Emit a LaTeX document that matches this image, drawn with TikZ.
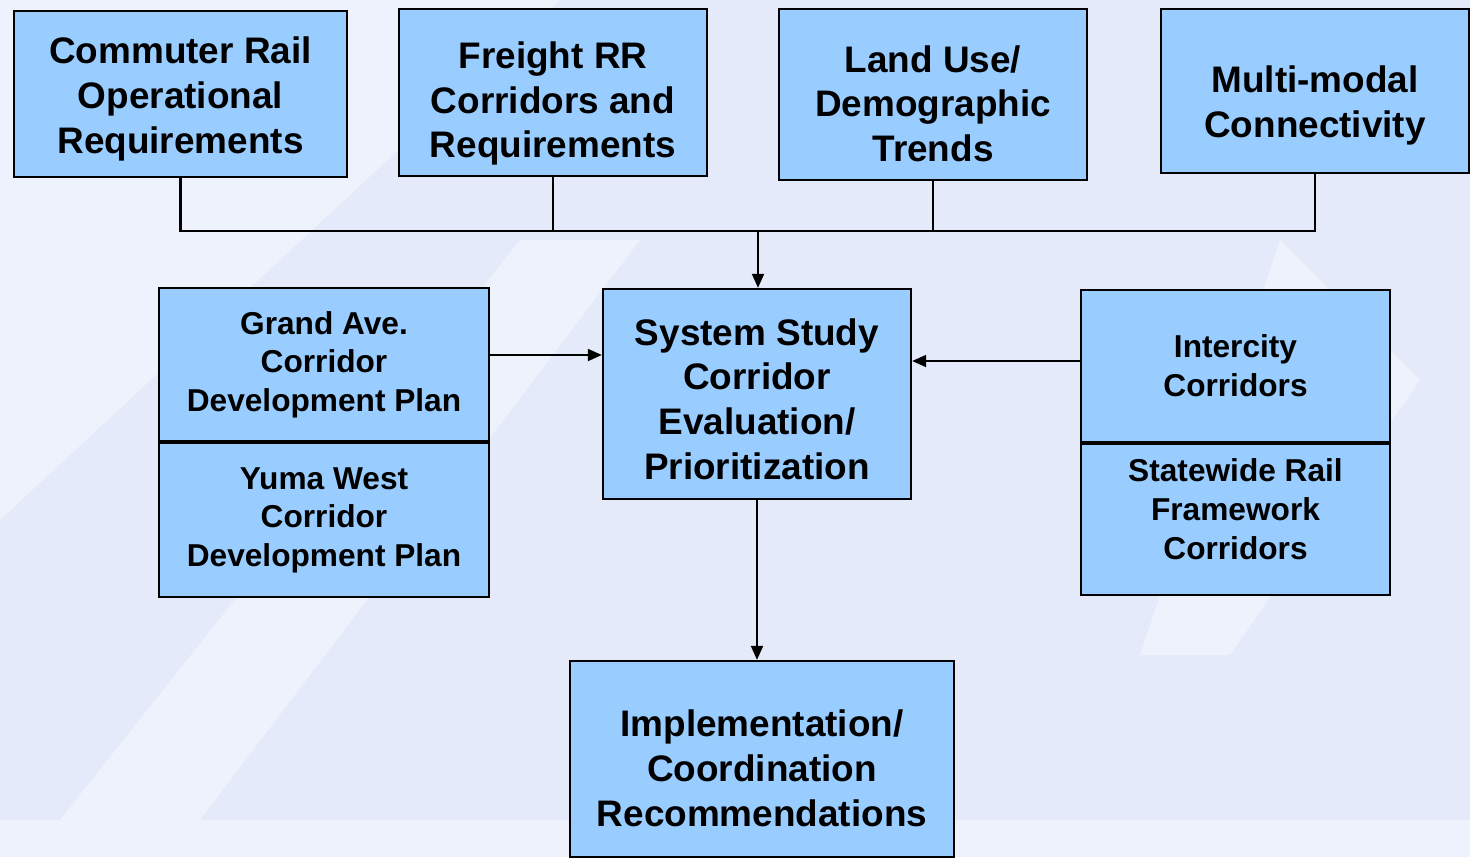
\documentclass[tikz,border=0pt]{standalone}
\usepackage{fontspec}
\setmainfont{Liberation Sans}
\usetikzlibrary{positioning,arrows.meta}
\definecolor{boxblue}{RGB}{153,204,255}
\definecolor{bgdark}{RGB}{228,234,250}
\definecolor{bglight}{RGB}{238,242,252}
\newcommand{\topgap}[1]{\rule{0pt}{#1}}

\begin{document}
\begin{tikzpicture}[x=0.01cm, y=-0.01cm,
  mybox/.style={draw=black, line width=0.6pt, fill=boxblue, align=center, inner sep=0pt},
  bigbox/.style={mybox, font=\fontsize{10.5}{12.7}\selectfont\bfseries},
  smallbox/.style={mybox, font=\fontsize{9}{11}\selectfont\bfseries},
  textup/.style={execute at end node={\rule[-#1]{0pt}{0pt}}},
  link/.style={line width=0.6pt},
  arrow/.style={link, -{Triangle[length=4pt, width=3.4pt]}}
  ]
  % background
  \fill[bgdark] (0,0) rectangle (1470,857);
  \useasboundingbox (0,0) rectangle (1470,857);
  \fill[bglight] (0,0) -- (560,0) -- (0,520) -- cycle;
  \fill[bglight] (0,820) -- (1470,820) -- (1470,857) -- (0,857) -- cycle;
  \fill[bglight] (60,820) -- (520,240) -- (640,240) -- (200,820) -- cycle;
  \fill[bglight] (1140,655) -- (1280,240) -- (1420,380) -- (1230,655) -- cycle;

  % top row
  \node[bigbox, minimum width=3.33cm, minimum height=1.66cm] (commuter) at (180.5,94)
    {\topgap{10.5pt}Commuter Rail\\Operational\\Requirements};
  \node[bigbox, minimum width=3.08cm, minimum height=1.67cm] (freight) at (553,92.5)
    {\topgap{14pt}Freight RR\\Corridors and\\Requirements};
  \node[bigbox, minimum width=3.08cm, minimum height=1.71cm] (landuse) at (933,94.5)
    {\topgap{12.8pt}Land Use/\\Demographic\\Trends};
  \node[bigbox, minimum width=3.08cm, minimum height=1.64cm] (multimodal) at (1315,91)
    {\topgap{16pt}Multi-modal\\Connectivity};

  % middle row
  \node[bigbox, minimum width=3.08cm, minimum height=2.10cm] (system) at (757,394)
    {\topgap{10.5pt}System Study\\Corridor\\Evaluation/\\Prioritization};
  \node[smallbox, minimum width=3.30cm, minimum height=1.53cm] (grand) at (324,364.5)
    {Grand Ave.\\Corridor\\Development Plan};
  \node[smallbox, minimum width=3.30cm, minimum height=1.54cm, below=0pt of grand] (yuma)
    {Yuma West\\Corridor\\Development Plan};
  \node[smallbox, minimum width=3.09cm, minimum height=1.52cm] (intercity) at (1235.5,366)
    {Intercity\\Corridors};
  \node[smallbox, textup=6pt, minimum width=3.09cm, minimum height=1.51cm, below=0pt of intercity] (statewide)
    {Statewide Rail\\Framework\\Corridors};

  % bottom
  \node[bigbox, minimum width=3.84cm, minimum height=1.96cm] (impl) at (762,759)
    {\topgap{12.8pt}Implementation/\\Coordination\\Recommendations};

  % connectors
  \coordinate (join) at (758,231);
  \draw[link] (commuter.south) |- (join);
  \draw[link] (multimodal.south) |- (join);
  \draw[link] (freight.south) -- (freight.south |- join);
  \draw[link] (landuse.south) -- (landuse.south |- join);
  \draw[arrow] (join) -- (join |- system.north);
  \draw[arrow] ([yshift=0.095cm]grand.east) -- ([yshift=0.095cm]grand.east -| system.west);
  \draw[arrow] ([yshift=0.05cm]intercity.west) -- ([yshift=0.05cm]intercity.west -| system.east);
  \draw[arrow] (system.south) -- (system.south |- impl.north);

\end{tikzpicture}
\end{document}
